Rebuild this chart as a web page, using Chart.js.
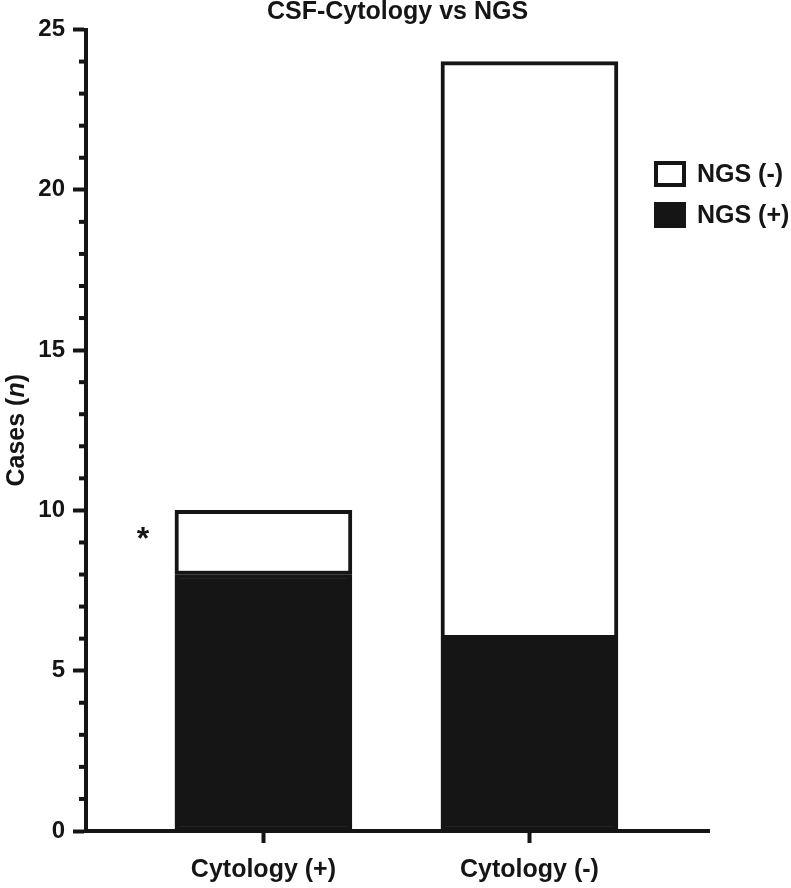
<!DOCTYPE html>
<html>
<head>
<meta charset="utf-8">
<script src="https://cdn.jsdelivr.net/npm/chart.js@4"></script>
<style>
  html, body { margin: 0; padding: 0; background: #fff; }
  #wrap { width: 791px; height: 888px; position: relative; }
</style>
</head>
<body>
<div id="wrap"><canvas id="chart"></canvas></div>
<script>
// data
const categories = ["Cytology (+)", "Cytology (-)"];
const catPositions = [0, 1];
const ngsPos = [8, 6];
const ngsNeg = [2, 18];
const yTickStep = 5;
const yMinorStep = 1;
const seriesLabels = ["NGS (+)", "NGS (-)"];
const titleText = "CSF-Cytology vs NGS";

const INK = "#151515";
const FONT = "'Liberation Sans', Arial, sans-serif";

// x range leaves room on the right for the legend
const xMin = -0.667;
const xMax = 1.675;

const minorTicks = {
    id: "minorTicks",
    afterDraw(chart) {
        const y = chart.scales.y;
        const ctx = chart.ctx;
        ctx.save();
        ctx.strokeStyle = INK;
        ctx.lineWidth = 4;
        for (let v = y.min; v <= y.max; v += yMinorStep) {
            if (v % yTickStep === 0) continue;
            const py = y.getPixelForValue(v);
            ctx.beginPath();
            ctx.moveTo(y.right - 7, py);
            ctx.lineTo(y.right, py);
            ctx.stroke();
        }
        ctx.restore();
    }
};

// title centred over the plot area, not the canvas
const topTitle = {
    id: "topTitle",
    afterDraw(chart) {
        const ctx = chart.ctx;
        const area = chart.chartArea;
        ctx.save();
        ctx.fillStyle = INK;
        ctx.font = "bold 25px " + FONT;
        ctx.textAlign = "center";
        ctx.textBaseline = "middle";
        ctx.fillText(titleText, (area.left + area.right) / 2, 12);
        ctx.restore();
    }
};

const yTitle = {
    id: "yTitle",
    afterDraw(chart) {
        const ctx = chart.ctx;
        const area = chart.chartArea;
        const parts = [
            { t: "Cases (", f: "bold 25px " + FONT },
            { t: "n", f: "italic bold 25px " + FONT },
            { t: ")", f: "bold 25px " + FONT },
        ];
        let total = 0;
        parts.forEach(p => { ctx.font = p.f; p.w = ctx.measureText(p.t).width; total += p.w; });
        ctx.save();
        ctx.translate(17, (area.top + area.bottom) / 2);
        ctx.rotate(-Math.PI / 2);
        ctx.fillStyle = INK;
        ctx.textBaseline = "middle";
        ctx.textAlign = "left";
        let x = -total / 2;
        parts.forEach(p => { ctx.font = p.f; ctx.fillText(p.t, x, 0); x += p.w; });
        ctx.restore();
    }
};

const asterisk = {
    id: "asterisk",
    afterDraw(chart) {
        const bar = chart.getDatasetMeta(1).data[0];
        if (!bar) return;
        const ctx = chart.ctx;
        ctx.save();
        ctx.fillStyle = INK;
        ctx.font = "bold 32px " + FONT;
        ctx.textAlign = "center";
        ctx.textBaseline = "middle";
        ctx.fillText("*", bar.x - bar.width / 2 - 32, bar.y + 30);
        ctx.restore();
    }
};

const sideLegend = {
    id: "sideLegend",
    afterDraw(chart) {
        const ctx = chart.ctx;
        const area = chart.chartArea;
        const items = chart.data.datasets.slice().reverse();
        ctx.save();
        items.forEach((ds, i) => {
            const bx = area.right - 55;
            const cy = 174 + i * 41;
            ctx.fillStyle = ds.backgroundColor;
            ctx.fillRect(bx, cy - 13, 32, 26);
            ctx.strokeStyle = ds.borderColor;
            ctx.lineWidth = 4;
            ctx.strokeRect(bx + 2, cy - 11, 28, 22);
            ctx.fillStyle = INK;
            ctx.font = "bold 25px " + FONT;
            ctx.textAlign = "left";
            ctx.textBaseline = "middle";
            ctx.fillText(ds.label, bx + 43, cy + 1);
        });
        ctx.restore();
    }
};

new Chart(document.getElementById("chart"), {
    type: "bar",
    data: {
        datasets: [
            {
                label: seriesLabels[0],
                data: catPositions.map((x, i) => ({ x: x, y: ngsPos[i] })),
                backgroundColor: INK,
                borderColor: INK,
                borderWidth: 4,
                borderSkipped: false,
            },
            {
                label: seriesLabels[1],
                data: catPositions.map((x, i) => ({ x: x, y: ngsNeg[i] })),
                backgroundColor: "#ffffff",
                borderColor: INK,
                borderWidth: 4,
                borderSkipped: false,
            },
        ],
    },
    options: {
        responsive: true,
        maintainAspectRatio: false,
        animation: false,
        barThickness: 177,
        layout: { padding: { left: 0, right: 82, top: 29.5, bottom: 0 } },
        plugins: {
            legend: { display: false },
            tooltip: { enabled: false },
            title: { display: false },
        },
        scales: {
            x: {
                type: "linear",
                stacked: true,
                offset: false,
                min: xMin,
                max: xMax,
                afterBuildTicks: s => { s.ticks = catPositions.map(v => ({ value: v })); },
                afterFit: s => { s.height = 57; },
                border: { display: true, color: INK, width: 4 },
                grid: { offset: false, drawOnChartArea: false, drawTicks: true, tickLength: 12, tickWidth: 4, tickColor: INK },
                ticks: {
                    color: INK,
                    padding: 12,
                    maxRotation: 0,
                    autoSkip: false,
                    font: { family: FONT, size: 25, weight: "bold" },
                    callback: v => categories[v] ?? "",
                },
            },
            y: {
                stacked: true,
                min: 0,
                max: 25,
                afterFit: s => { s.width = 86; },
                border: { display: true, color: INK, width: 4 },
                grid: { drawOnChartArea: false, drawTicks: true, tickLength: 13, tickWidth: 4, tickColor: INK },
                ticks: {
                    stepSize: yTickStep,
                    color: INK,
                    padding: 8,
                    font: { family: FONT, size: 24, weight: "bold" },
                },
            },
        },
    },
    plugins: [minorTicks, topTitle, yTitle, asterisk, sideLegend],
});
</script>
</body>
</html>
